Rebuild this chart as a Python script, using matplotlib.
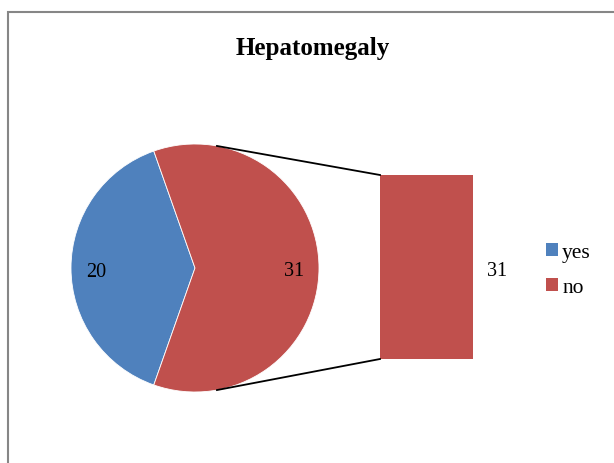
import numpy as np
import matplotlib
matplotlib.use("Agg")
import matplotlib.pyplot as plt
from matplotlib.patches import Rectangle, Patch

# Data
categories = ["yes", "no"]
values = [20, 31]
bar_values = [31]
title = "Hepatomegaly"
colors = ["#4F81BD", "#C0504D"]

plt.rcParams['font.family'] = ['Liberation Serif', 'DejaVu Serif']

W, H = 614, 464
fig = plt.figure(figsize=(W / 100, H / 100), dpi=100)
ax = fig.add_axes([0, 0, 1, 1])
ax.set_xlim(0, W)
ax.set_ylim(0, H)
ax.set_aspect('equal')
ax.axis('off')

def Y(y):
    return H - y

# border
ax.add_patch(Rectangle((8, Y(500)), 700, 500 - 12.5, fill=False, edgecolor="#868686", linewidth=1.5))

# pie
cx, cy, r = 195, Y(269), 124
total = sum(values)
blue_span = 360 * values[0] / total
start = 180 - blue_span / 2
wedges, texts, autotexts = ax.pie(
    values, colors=colors, startangle=start, counterclock=True,
    center=(cx, cy), radius=r, frame=True,
    autopct=lambda p: f"{int(round(p * total / 100))}", pctdistance=0.8,
    wedgeprops=dict(edgecolor="white", linewidth=0.6),
    textprops=dict(fontsize=14.5, color="black"))
for t in autotexts:
    x0, y0 = t.get_position()
    t.set_position((x0, y0 - 3))
ax.set_xlim(0, W)
ax.set_ylim(0, H)
ax.axis('off')

# bar
bar_left, bar_right = 380, 473
bar_bottom = Y(360)
scale = 184 / bar_values[0]
ax.bar((bar_left + bar_right) / 2, bar_values[0] * scale, width=bar_right - bar_left,
       bottom=bar_bottom, color=colors[1], edgecolor="none")
bar_top = bar_bottom + bar_values[0] * scale
ax.text(bar_right + 24, (bar_bottom + bar_top) / 2 - 3, f"{bar_values[0]}", fontsize=14.5,
        ha="center", va="center")

# connector lines
a = np.deg2rad(79.8)
ax.plot([cx + r * np.cos(a), bar_left], [cy + r * np.sin(a), bar_top], color="black", lw=1.3)
ax.plot([cx + r * np.cos(a), bar_left], [cy - r * np.sin(a), bar_bottom], color="black", lw=1.3)

# title
ax.text(313, Y(48), title, fontsize=18, fontweight="bold", ha="center", va="center")

# legend
handles = [Patch(facecolor=c, edgecolor="none") for c in colors]
leg = ax.legend(handles, categories, loc="center left", bbox_to_anchor=(546 / W, 1 - 271 / H),
                frameon=False, fontsize=15.5, handlelength=0.55, handleheight=0.55,
                handletextpad=0.2, labelspacing=0.75, borderaxespad=0, borderpad=0)

fig.savefig("out.png", dpi=100)
